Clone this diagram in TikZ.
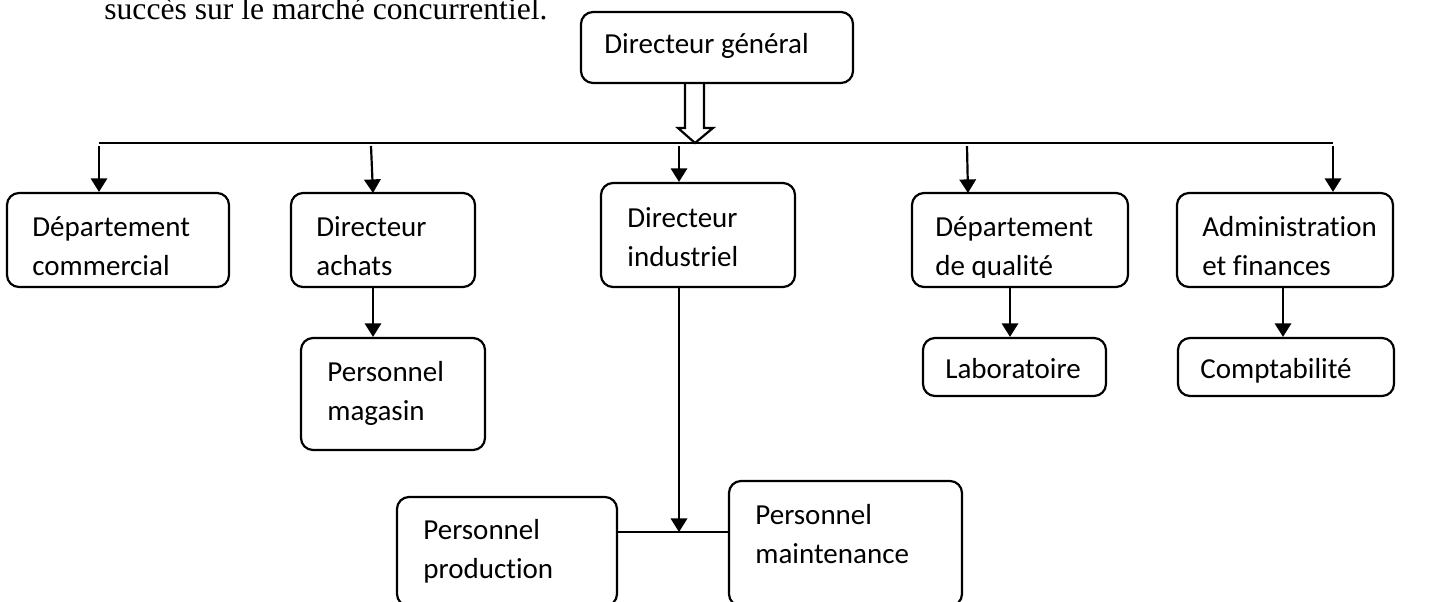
\documentclass[tikz,border=0pt]{standalone}
\usepackage{fontspec}
\setmainfont{Liberation Serif}
\newfontfamily\boxfont[RawFeature={-liga;-clig;-dlig}]{Carlito}
\usetikzlibrary{arrows.meta,fit}
\begin{document}
\begin{tikzpicture}[x=0.5pt,y=-0.5pt,
  box/.style={draw, line width=1.1pt, rounded corners=6pt, inner sep=0pt},
  lbl/.style={anchor=base west, inner sep=0pt, align=left,
    font=\boxfont\fontsize{14.5}{19.2}\selectfont},
  arr/.style={line width=1.1pt, -{Triangle[length=6.8pt,width=8.2pt]}},
  ln/.style={line width=1.1pt}]
\clip (0,0) rectangle (1430,601);
% top text
\node[anchor=base west, inner sep=0pt, font=\fontsize{15.8}{18}\selectfont] (txt) at (104,19) {succès sur le marché concurrentiel.};
% boxes
\node[box, fit={(581,12) (853,83)}] (dg) {};
\node[box, fit={(7,193) (229,287)}] (dc) {};
\node[box, fit={(291,193) (475,287)}] (da) {};
\node[box, fit={(601,183) (795,287)}] (di) {};
\node[box, fit={(912,193) (1128,287)}] (dq) {};
\node[box, fit={(1177,193) (1393,287)}] (af) {};
\node[box, fit={(301,338) (485,450)}] (pm) {};
\node[box, fit={(923,338) (1106,396)}] (lab) {};
\node[box, fit={(1178,338) (1394,396)}] (cpt) {};
\node[box, fit={(397,497) (617,606)}] (pp) {};
\node[box, fit={(729,481) (962,606)}] (pmt) {};
% labels (base = baseline of the last line)
\node[lbl] (tdg) at (604,53) {Directeur général};
\node[lbl] (tdc) at (32,275) {Département\\commercial};
\node[lbl] (tda) at (316,275) {Directeur\\achats};
\node[lbl] (tdi) at (627,266) {Directeur\\industriel};
\begin{scope}
\clip (900,150) rectangle (1140,277);
\node[lbl] (tdq) at (935,275) {Département\\de qualité};
\end{scope}
\node[lbl] (taf) at (1202,275) {Administration\\et finances};
\node[lbl] (tpm) at (327,420) {Personnel\\magasin};
\node[lbl] (tlab) at (945,378) {Laboratoire};
\node[lbl] (tcpt) at (1200,378) {Comptabilité};
\node[lbl] (tpp) at (423,578) {Personnel\\production};
\node[lbl] (tpmt) at (755,563) {Personnel\\maintenance};
% open block arrow
\coordinate (bus) at (695,143);
\draw[line width=1.1pt, line join=miter] (685,83) -- (685,128) -- (678,128) -- (bus) -- (713,128) -- (704,128) -- (704,83);
% bus line
\coordinate (busL) at (99,143);
\coordinate (busR) at (1333,143);
\draw[ln] (busL) -- (busR);
\coordinate (b1) at (99,146);
\coordinate (b2) at (371,146);
\coordinate (b3) at (679,146);
\coordinate (b4) at (967,146);
\coordinate (b5) at (1333,146);
\draw[arr] (b1) -- (b1 |- dc.north);
\draw[arr] (b2) -- (373,193);
\draw[arr] (b3) -- (b3 |- di.north);
\draw[arr] (b4) -- (968,193);
\draw[arr] (b5) -- (b5 |- af.north);
% second level
\coordinate (c1) at (373,287);
\draw[arr] (c1) -- (c1 |- pm.north);
\coordinate (c2) at (1010,287);
\draw[arr] (c2) -- (c2 |- lab.north);
\coordinate (c3) at (1283,287);
\draw[arr] (c3) -- (c3 |- cpt.north);
\coordinate (j) at (679,532);
\draw[ln] (j -| pp.east) -- (j -| pmt.west);
\draw[arr] (j |- di.south) -- (j);
\end{tikzpicture}
\end{document}
